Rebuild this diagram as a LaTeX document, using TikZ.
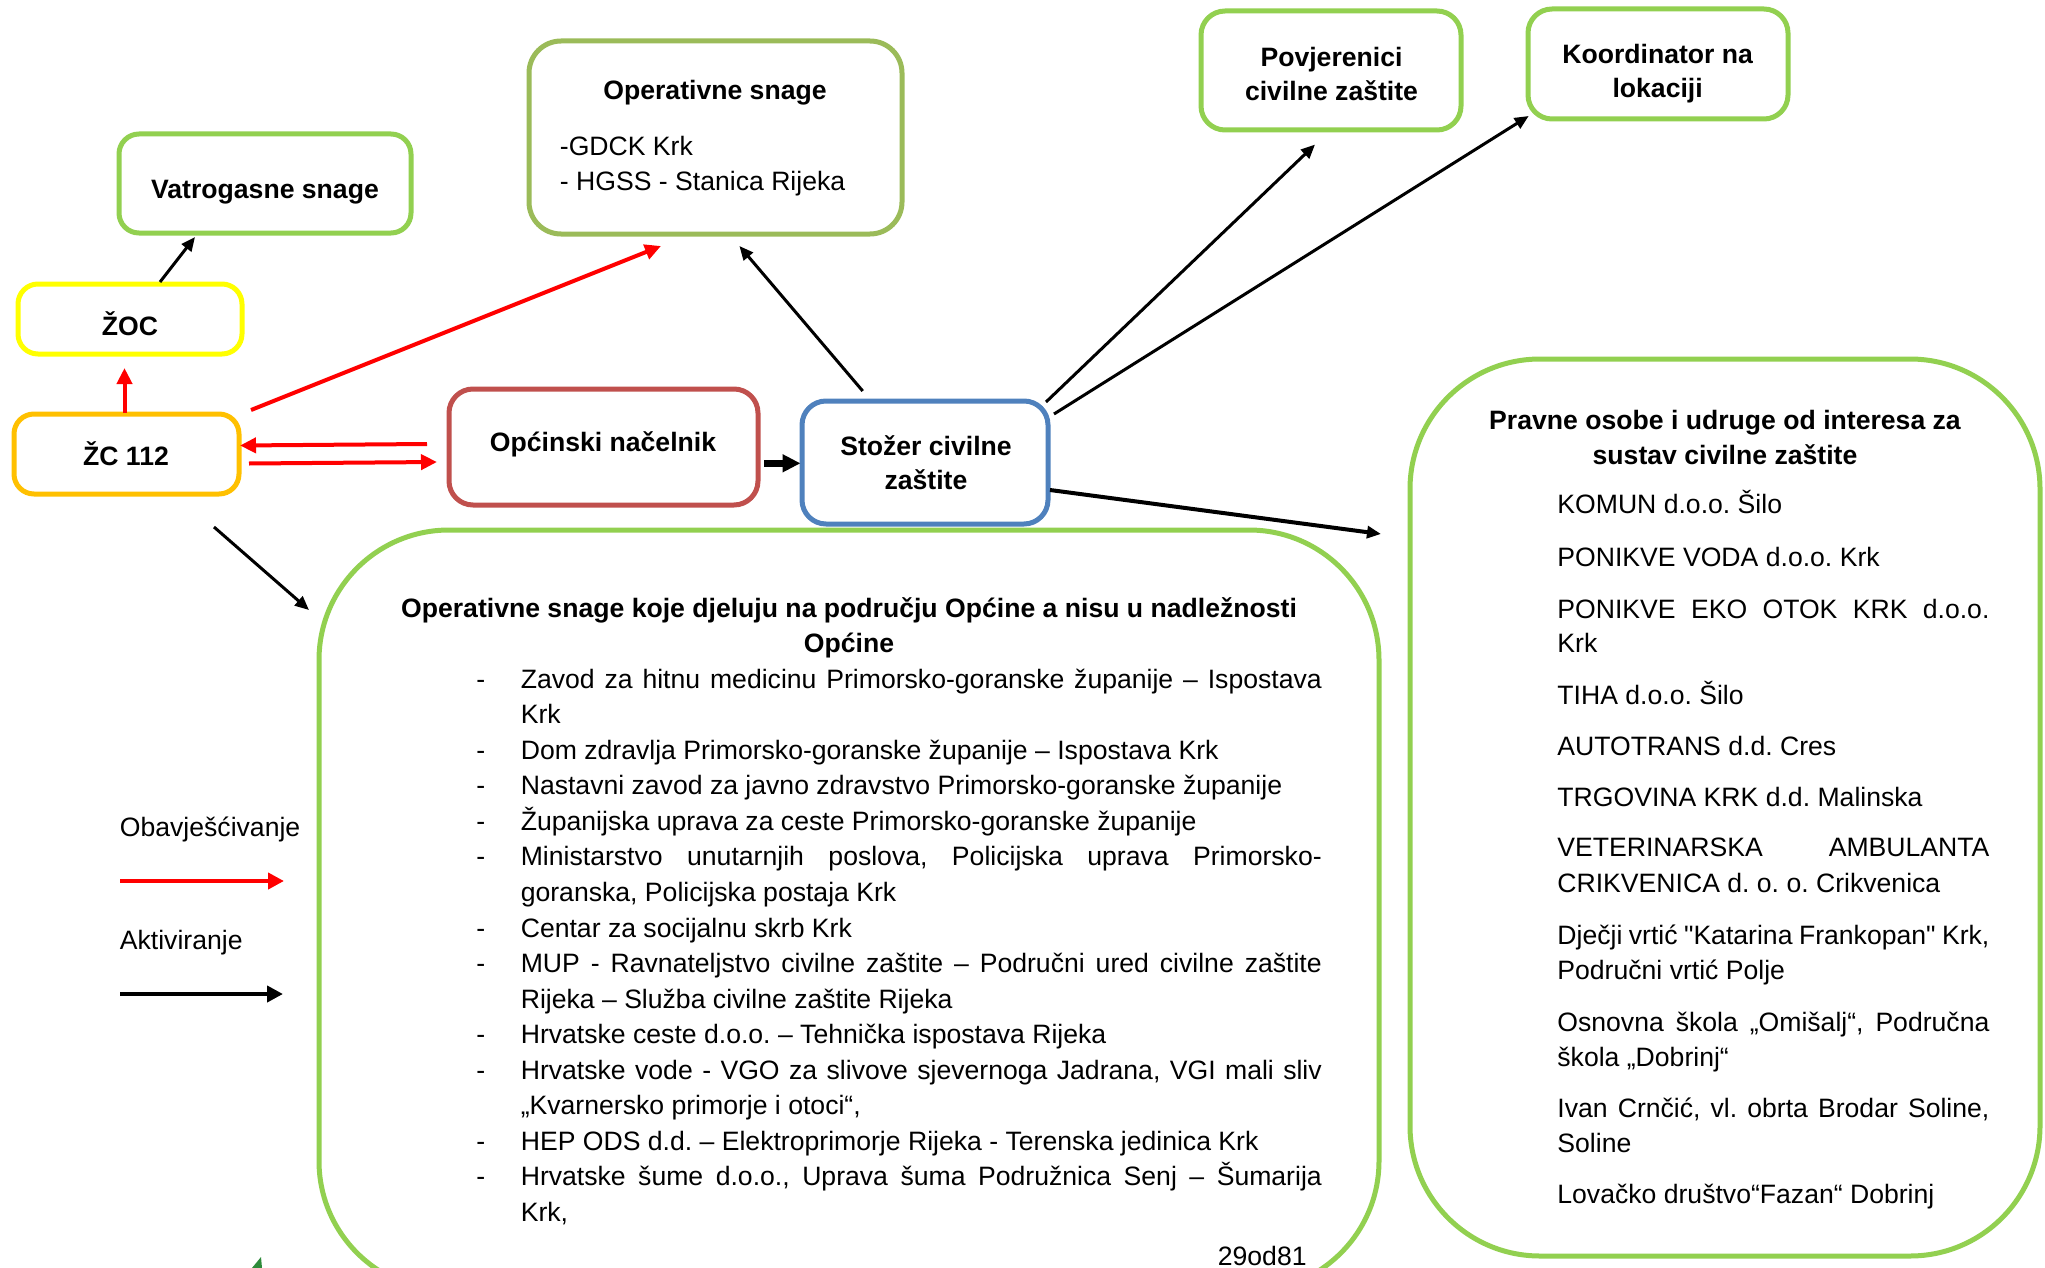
\documentclass[tikz,border=0pt]{standalone}
\usepackage{fontspec}
\setmainfont{Liberation Sans}
\usetikzlibrary{arrows.meta}
\definecolor{lgreen}{HTML}{92D050}
\definecolor{olivegr}{HTML}{9BBB59}
\definecolor{nred}{HTML}{C0504D}
\definecolor{sblue}{HTML}{4F81BD}
\definecolor{zyellow}{HTML}{FFFF00}
\definecolor{zorange}{HTML}{FFC000}
\definecolor{ared}{HTML}{FF0000}
\definecolor{logogreen}{HTML}{2E8B3A}
\newcommand\straightq{{\addfontfeature{Ligatures=TeXOff}"}}
\begin{document}
\begin{tikzpicture}[x=0.5pt,y=-0.5pt,
  box/.style={draw, line width=2.5pt, rounded corners=10pt, inner sep=0pt, fill=white},
  txt/.style={inner sep=0pt, anchor=base, yshift=-1pt, font=\fontsize{13.3}{16}\selectfont\frenchspacing},
  btxt/.style={inner sep=0pt, anchor=base, yshift=-1pt, font=\fontsize{13.3}{16}\selectfont\bfseries\frenchspacing},
  ltxt/.style={txt, anchor=base west},
  redarr/.style={draw=ared, line width=2pt, -{Triangle[length=8pt,width=7.5pt]}},
  blkarr/.style={draw=black, line width=1.5pt, -{Triangle[length=7pt,width=6pt]}},
  legred/.style={draw=ared, line width=2pt, -{Triangle[length=8pt,width=8pt]}},
  legblk/.style={draw=black, line width=2pt, -{Triangle[length=8pt,width=8pt]}},
  thickarr/.style={draw=black, line width=3.5pt, -{Triangle[length=9pt,width=8.5pt]}},
]
\useasboundingbox (0,0) rectangle (2045,1268);
\clip (0,0) rectangle (2045,1268);

% ---------- boxes ----------
\node[box, draw=lgreen, rounded corners=65pt, minimum width=530pt, minimum height=380.5pt] (mid) at (849,910.5) {};
\node[box, draw=lgreen, rounded corners=65pt, minimum width=315pt, minimum height=448.5pt] (prav) at (1725,807.5) {};
\node[box, draw=lgreen, minimum width=146pt, minimum height=49.5pt] (vat) at (265,183.5) {};
\node[box, draw=zyellow, minimum width=112pt, minimum height=35pt] (zoc) at (130,319) {};
\node[box, draw=zorange, minimum width=112.5pt, minimum height=40pt] (zc) at (126.5,454) {};
\node[box, draw=olivegr, rounded corners=16pt, minimum width=186.5pt, minimum height=96.5pt] (ops) at (715.5,137.5) {};
\node[box, draw=nred, rounded corners=12pt, minimum width=154.5pt, minimum height=58pt] (nac) at (603.5,447) {};
\node[box, draw=sblue, rounded corners=12pt, minimum width=123pt, minimum height=61.5pt] (stoz) at (925,462.5) {};
\node[box, draw=lgreen, rounded corners=12pt, minimum width=130pt, minimum height=59.5pt] (povj) at (1331,70.5) {};
\node[box, draw=lgreen, rounded corners=12pt, minimum width=130pt, minimum height=55pt] (koord) at (1658,64) {};

% ---------- box texts ----------
\node[btxt] (tvat) at (265,196.3) {Vatrogasne snage};
\node[btxt] (tzoc) at (130,333) {ŽOC};
\node[btxt] (tzc) at (126,463.6) {ŽC 112};
\node[btxt] (tops) at (715,97.2) {Operativne snage};
\node[ltxt] (tops1) at (559.5,153.2) {-GDCK Krk};
\node[ltxt] (tops2) at (559.5,188.4) {- HGSS - Stanica Rijeka};
\node[btxt] (tnac) at (603,449.3) {Općinski načelnik};
\node[btxt] (tstoz1) at (926,453.2) {Stožer civilne};
\node[btxt] (tstoz2) at (926,487.1) {zaštite};
\node[btxt] (tpovj1) at (1331.5,64.6) {Povjerenici};
\node[btxt] (tpovj2) at (1331.5,98.5) {civilne zaštite};
\node[btxt] (tkoord1) at (1657.6,62) {Koordinator na};
\node[btxt] (tkoord2) at (1657.6,95.9) {lokaciji};

% ---------- middle box list ----------
\node[btxt] (mt1) at (849,615) {Operativne snage koje djeluju na području Općine a nisu u nadležnosti};
\node[btxt] (mt2) at (849,650.6) {Općine};
\foreach \i/\yy in {d1/686.1, d2/757.2, d3/792.8, d4/828.3, d5/863.9, d6/935.0, d7/970.5, d8/1041.6, d9/1077.2, d10/1148.3, d11/1183.8}
  \node[ltxt] (\i) at (476,\yy) {-};
\node[ltxt] (m1) at (520.4,686.1) {\makebox[400.5pt][s]{Zavod za hitnu medicinu Primorsko-goranske županije – Ispostava}};
\node[ltxt] (m2) at (520.4,721.6) {Krk};
\node[ltxt] (m3) at (520.4,757.2) {Dom zdravlja Primorsko-goranske županije – Ispostava Krk};
\node[ltxt] (m4) at (520.4,792.8) {Nastavni zavod za javno zdravstvo Primorsko-goranske županije};
\node[ltxt] (m5) at (520.4,828.3) {Županijska uprava za ceste Primorsko-goranske županije};
\node[ltxt] (m6) at (520.4,863.9) {\makebox[400.5pt][s]{Ministarstvo unutarnjih poslova, Policijska uprava Primorsko-}};
\node[ltxt] (m7) at (520.4,899.4) {goranska, Policijska postaja Krk};
\node[ltxt] (m8) at (520.4,935.0) {Centar za socijalnu skrb Krk};
\node[ltxt] (m9) at (520.4,970.5) {\makebox[400.5pt][s]{MUP - Ravnateljstvo civilne zaštite – Područni ured civilne zaštite}};
\node[ltxt] (m10) at (520.4,1006.1) {Rijeka – Služba civilne zaštite Rijeka};
\node[ltxt] (m11) at (520.4,1041.6) {Hrvatske ceste d.o.o. – Tehnička ispostava Rijeka};
\node[ltxt] (m12) at (520.4,1077.2) {\makebox[400.5pt][s]{Hrvatske vode - VGO za slivove sjevernoga Jadrana, VGI mali sliv}};
\node[ltxt] (m13) at (520.4,1112.7) {„Kvarnersko primorje i otoci“,};
\node[ltxt] (m14) at (520.4,1148.3) {HEP ODS d.d. – Elektroprimorje Rijeka - Terenska jedinica Krk};
\node[ltxt] (m15) at (520.4,1183.8) {\makebox[400.5pt][s]{Hrvatske šume d.o.o., Uprava šuma Podružnica Senj – Šumarija}};
\node[ltxt] (m16) at (520.4,1219.4) {Krk,};
\node[txt, anchor=base east] (page) at (1307,1263) {29od81};

% ---------- right box list ----------
\node[btxt] (pt1) at (1725,427.1) {Pravne osobe i udruge od interesa za};
\node[btxt] (pt2) at (1725,462.3) {sustav civilne zaštite};
\node[ltxt] (p1) at (1557,511.9) {KOMUN d.o.o. Šilo};
\node[ltxt] (p2) at (1557,564.0) {PONIKVE VODA d.o.o. Krk};
\node[ltxt] (p3) at (1557,616.2) {\makebox[216pt][s]{PONIKVE EKO OTOK KRK d.o.o.}};
\node[ltxt] (p3b) at (1557,650.1) {Krk};
\node[ltxt] (p4) at (1557,702.3) {TIHA d.o.o. Šilo};
\node[ltxt] (p5) at (1557,753.1) {AUTOTRANS d.d. Cres};
\node[ltxt] (p6) at (1557,804.0) {TRGOVINA KRK d.d. Malinska};
\node[ltxt] (p7) at (1557,854.9) {\makebox[216pt][s]{VETERINARSKA AMBULANTA}};
\node[ltxt] (p7b) at (1557,890.1) {CRIKVENICA d. o. o. Crikvenica};
\node[ltxt] (p8) at (1557,942.3) {\makebox[216pt][s]{Dječji vrtić \straightq Katarina Frankopan\straightq{} Krk,}};
\node[ltxt] (p8b) at (1557,977.5) {Područni vrtić Polje};
\node[ltxt] (p9) at (1557,1029.6) {\makebox[216pt][s]{Osnovna škola „Omišalj“, Područna}};
\node[ltxt] (p9b) at (1557,1064.8) {škola „Dobrinj“};
\node[ltxt] (p10) at (1557,1115.7) {\makebox[216pt][s]{Ivan Crnčić, vl. obrta Brodar Soline,}};
\node[ltxt] (p10b) at (1557,1150.9) {Soline};
\node[ltxt] (p11) at (1557,1201.8) {Lovačko društvo“Fazan“ Dobrinj};

% ---------- legend ----------
\node[ltxt] (lob) at (119.5,834) {Obavješćivanje};
\node[ltxt] (lak) at (119.5,947) {Aktiviranje};
\coordinate (lr1) at (120,881); \coordinate (lr2) at (284,881);
\coordinate (lb1) at (120,994); \coordinate (lb2) at (283,994);
\draw[legred] (lr1) -- (lr2);
\draw[legblk] (lb1) -- (lb2);

% ---------- connectors ----------
\coordinate (a1s) at (160,282);   \coordinate (a1e) at (195,237);
\coordinate (a2s) at (124.5,413); \coordinate (a2e) at (124.5,368);
\coordinate (a3s) at (251,410);   \coordinate (a3e) at (661,246);
\coordinate (a4s) at (427,444);   \coordinate (a4e) at (240,445.5);
\coordinate (a5s) at (249,463.5); \coordinate (a5e) at (437,462);
\coordinate (a6s) at (764,463.3); \coordinate (a6e) at (800.5,463.3);
\coordinate (a7s) at (862.7,391); \coordinate (a7e) at (739.4,246);
\coordinate (a8s) at (1046,402);  \coordinate (a8e) at (1315,144.6);
\coordinate (a9s) at (1054,414);  \coordinate (a9e) at (1528.7,116);
\coordinate (a10s) at (1050,490); \coordinate (a10e) at (1381,534);
\coordinate (a11s) at (214,527);  \coordinate (a11e) at (309,610);
\draw[blkarr] (a1s) -- (a1e);
\draw[redarr] (a2s) -- (a2e);
\draw[redarr] (a3s) -- (a3e);
\draw[redarr] (a4s) -- (a4e);
\draw[redarr] (a5s) -- (a5e);
\draw[thickarr] (a6s) -- (a6e);
\draw[blkarr] (a7s) -- (a7e);
\draw[blkarr] (a8s) -- (a8e);
\draw[blkarr] (a9s) -- (a9e);
\draw[blkarr, line width=2pt] (a10s) -- (a10e);
\draw[blkarr] (a11s) -- (a11e);

% small logo fragment at the bottom edge
\fill[logogreen] (252,1268) -- (261,1257) -- (262,1268) -- cycle;
\end{tikzpicture}
\end{document}
